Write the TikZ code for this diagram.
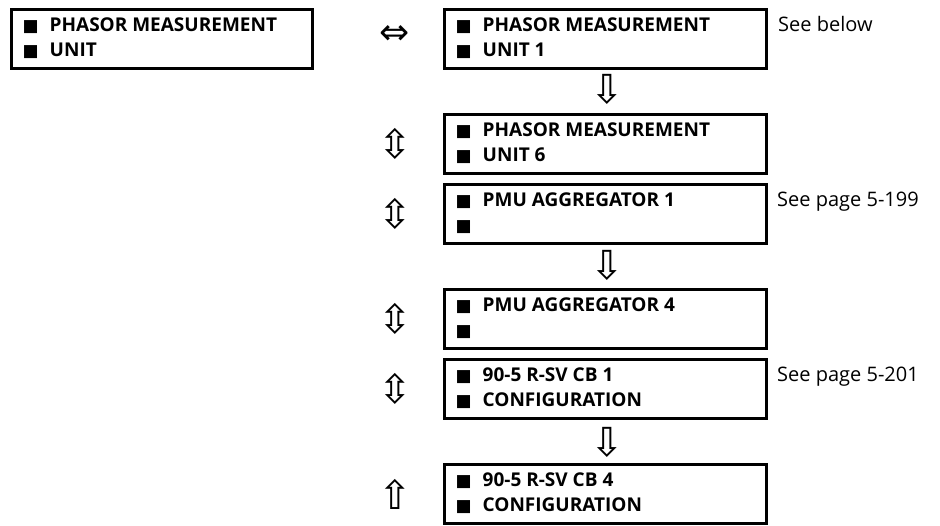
\documentclass[tikz,border=0pt]{standalone}
\usepackage{fontspec}
\setmainfont{Open Sans}
\newfontfamily\symf{DejaVu Sans}
\newcommand\bul{\makebox[27pt][l]{\symf\fontsize{17}{17}\selectfont ■}}
\tikzset{
  menubox/.style={draw, line width=3pt, rectangle, inner sep=0pt, anchor=north west},
  boxtext/.style={anchor=base west, inner sep=0pt, font=\bfseries\fontsize{19}{22}\selectfont},
  seetext/.style={anchor=base west, inner sep=0pt, font=\fontsize{20}{22}\selectfont},
  arrowsym/.style={inner sep=0pt, font=\symf\fontsize{40}{40}\selectfont},
  lrarrow/.style={inner sep=0pt, font=\symf\fontsize{36}{36}\selectfont},
}
% #1 name, #2 left x, #3 top y, #4 outer width, #5 line 1, #6 line 2
\newcommand\menuentry[6]{%
  \node[menubox, minimum width=#4-3, minimum height=59] (#1) at (#2,#3) {};
  \node[boxtext] (#1a) at (#2+12.5,#3+23) {\bul #5};
  \node[boxtext] (#1b) at (#2+12.5,#3+48) {\bul #6};
}
\begin{document}
\begin{tikzpicture}[x=1pt,y=-1pt]
\useasboundingbox (0,0) rectangle (940,525);
\menuentry{root}{10}{8}{304}{PHASOR MEASUREMENT}{UNIT}
\menuentry{pmu1}{443}{8}{325}{PHASOR MEASUREMENT}{UNIT 1}
\menuentry{pmu6}{443}{113}{325}{PHASOR MEASUREMENT}{UNIT 6}
\menuentry{agg1}{443}{183}{325}{PMU AGGREGATOR 1}{}
\menuentry{agg4}{443}{288}{325}{PMU AGGREGATOR 4}{}
\menuentry{cb1}{443}{358}{325}{90-5 R-SV CB 1}{CONFIGURATION}
\menuentry{cb4}{443}{463}{325}{90-5 R-SV CB 4}{CONFIGURATION}
\node[seetext] (see1) at (778,31) {See below};
\node[seetext] (see2) at (777,206) {See page 5-199};
\node[seetext] (see3) at (777,381) {See page 5-201};
\node[lrarrow] (a0) at (395,35) {⇔};
\node[arrowsym] (a1) at (395,144) {⇳};
\node[arrowsym] (a2) at (395,214) {⇳};
\node[arrowsym] (a3) at (395,319) {⇳};
\node[arrowsym] (a4) at (395,389) {⇳};
\node[arrowsym] (a5) at (395,494) {⇧};
\node[arrowsym] (d1) at (607,89) {⇩};
\node[arrowsym] (d2) at (607,265) {⇩};
\node[arrowsym] (d3) at (607,442) {⇩};
\end{tikzpicture}
\end{document}
